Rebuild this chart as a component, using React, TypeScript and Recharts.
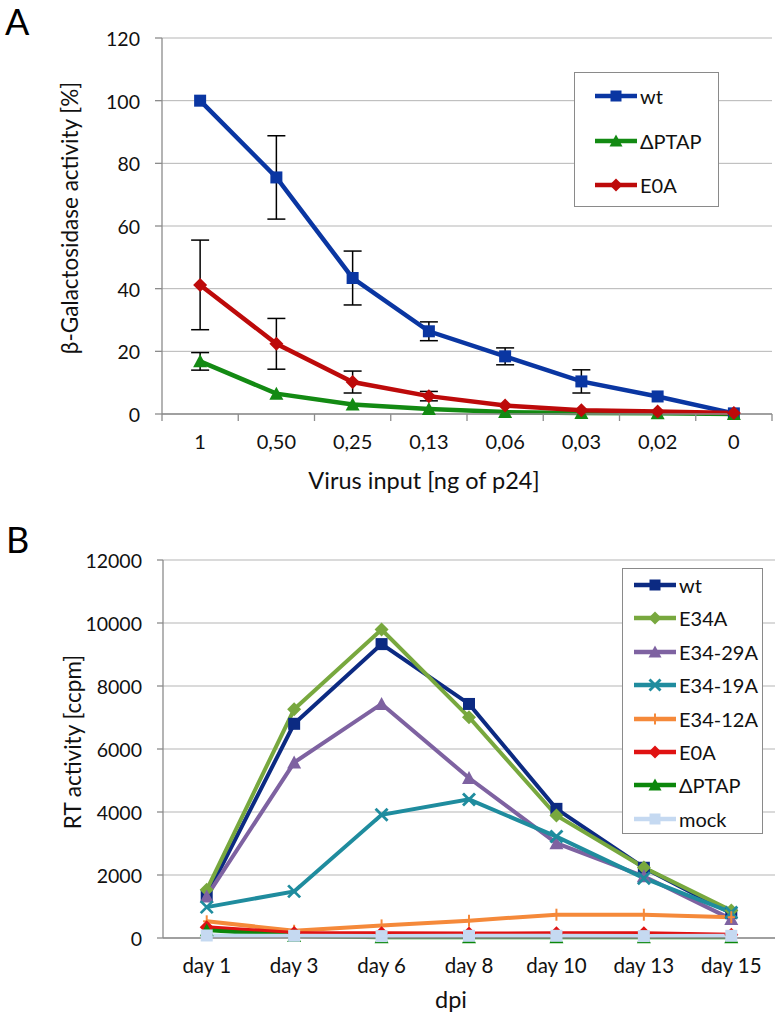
import React from "react";
import { CartesianGrid, ErrorBar, Label, Line, LineChart, XAxis, YAxis } from "recharts";

// Two stacked Excel-style line charts: (A) β-Gal activity vs. virus input, (B) RT activity over time

const FONT = "Lato, 'Open Sans', sans-serif";
const AXIS_GRAY = "#8c8c8c";
const GRID_GRAY = "#b5b5b5";

// ---- panel A data ----
const doseLabels = ["1", "0,50", "0,25", "0,13", "0,06", "0,03", "0,02", "0"];
const wtA = [100, 75.5, 43.4, 26.4, 18.4, 10.4, 5.6, 0.2];
const wtAErr = [null, 13.3, 8.6, 3.0, 2.7, 3.7, null, null];
const ptapA = [16.8, 6.5, 3.0, 1.6, 0.6, 0.3, 0.2, 0];
const ptapAErr = [2.8, null, null, null, null, null, null, null];
const e0aA = [41.2, 22.4, 10.2, 5.7, 2.7, 1.2, 0.8, 0.3];
const e0aAErr = [14.3, 8.1, 3.5, 1.5, null, null, null, null];
const yTicksA = [0, 20, 40, 60, 80, 100, 120];

// ---- panel B data ----
const dayLabels = ["day 1", "day 3", "day 6", "day 8", "day 10", "day 13", "day 15"];
const wtB = [1350, 6800, 9330, 7430, 4100, 2230, 790];
const e34aB = [1530, 7260, 9790, 7010, 3890, 2240, 870];
const e3429aB = [1320, 5570, 7430, 5080, 3010, 1960, 600];
const e3419aB = [980, 1480, 3910, 4400, 3220, 1900, 810];
const e3412aB = [530, 230, 400, 550, 740, 740, 660];
const e0aB = [340, 160, 150, 140, 150, 150, 100];
const ptapB = [250, 60, 20, 20, 20, 20, 20];
const mockB = [80, 70, 60, 70, 70, 60, 70];
const yTicksB = [0, 2000, 4000, 6000, 8000, 10000, 12000];

type Shape = "square" | "diamond" | "triangle" | "cross" | "plus";
type Series = { key: string; name: string; color: string; shape: Shape; values: number[]; err?: (number | null)[] };

const seriesA: Series[] = [
  { key: "wt", name: "wt", color: "#0a36a2", shape: "square", values: wtA, err: wtAErr },
  { key: "ptap", name: "ΔPTAP", color: "#138a13", shape: "triangle", values: ptapA, err: ptapAErr },
  { key: "e0a", name: "E0A", color: "#bd0a0a", shape: "diamond", values: e0aA, err: e0aAErr },
];

const seriesB: Series[] = [
  { key: "wt", name: "wt", color: "#0c2a82", shape: "square", values: wtB },
  { key: "e34a", name: "E34A", color: "#78a83e", shape: "diamond", values: e34aB },
  { key: "e3429a", name: "E34-29A", color: "#7e62a1", shape: "triangle", values: e3429aB },
  { key: "e3419a", name: "E34-19A", color: "#1f8c9e", shape: "cross", values: e3419aB },
  { key: "e3412a", name: "E34-12A", color: "#f5893a", shape: "plus", values: e3412aB },
  { key: "e0a", name: "E0A", color: "#e01212", shape: "diamond", values: e0aB },
  { key: "ptap", name: "ΔPTAP", color: "#0b870b", shape: "triangle", values: ptapB },
  { key: "mock", name: "mock", color: "#c5d9f1", shape: "square", values: mockB },
];

// rows keyed by category position (i + 0.5 so points sit between boundary ticks, like Excel)
function buildRows(labels: string[], series: Series[]) {
  return labels.map((label, i) => {
    const row: Record<string, any> = { pos: i + 0.5, label };
    for (const s of series) {
      row[s.key] = s.values[i];
      if (s.err) row[s.key + "Err"] = s.err[i];
    }
    return row;
  });
}

const rowsA = buildRows(doseLabels, seriesA);
const rowsB = buildRows(dayLabels, seriesB);

function Marker({ cx, cy, shape, color, size }: { cx: number; cy: number; shape: Shape; color: string; size: number }) {
  const h = size / 2;
  switch (shape) {
    case "square":
      return <rect x={cx - h} y={cy - h} width={size} height={size} fill={color} />;
    case "diamond":
      return <polygon points={`${cx},${cy - h - 1} ${cx + h + 1},${cy} ${cx},${cy + h + 1} ${cx - h - 1},${cy}`} fill={color} />;
    case "triangle":
      return <polygon points={`${cx},${cy - h - 1} ${cx + h + 1},${cy + h} ${cx - h - 1},${cy + h}`} fill={color} />;
    case "cross":
      return (
        <g stroke={color} strokeWidth={2.8}>
          <line x1={cx - h} y1={cy - h} x2={cx + h} y2={cy + h} />
          <line x1={cx - h} y1={cy + h} x2={cx + h} y2={cy - h} />
        </g>
      );
    case "plus":
      return (
        <g stroke={color} strokeWidth={2}>
          <line x1={cx} y1={cy - h} x2={cx} y2={cy + h} />
          <line x1={cx - h * 0.6} y1={cy} x2={cx + h * 0.6} y2={cy} />
        </g>
      );
  }
}

function makeTick(labels: string[], boundaryTicks: boolean, labelDy: number, fontSize: number) {
  return (props: any) => {
    const { x, y, payload } = props;
    const v = payload.value as number;
    if (Number.isInteger(v)) {
      if (!boundaryTicks) return <g />;
      return <line x1={x} x2={x} y1={y} y2={y + 7} stroke={AXIS_GRAY} strokeWidth={1.3} />;
    }
    return (
      <text x={x} y={y + labelDy} textAnchor="middle" fontSize={fontSize} fontFamily={FONT} fill="#111">
        {labels[Math.floor(v)]}
      </text>
    );
  };
}

const tickPositions = (n: number, withBounds: boolean) =>
  withBounds
    ? [...Array.from({ length: n }, (_, i) => [i, i + 0.5]).flat(), n]
    : Array.from({ length: n }, (_, i) => i + 0.5);

function LegendBox({ series, left, top, width, height, firstRow, rowGap, padLeft, lineW, markerSize }: {
  series: Series[]; left: number; top: number; width: number; height: number; firstRow: number; rowGap: number;
  padLeft: number; lineW: number; markerSize: number;
}) {
  return (
    <div style={{ position: "absolute", left, top, width, height, border: "1.5px solid #8a8a8a", background: "#fff", boxSizing: "border-box" }}>
      {series.map((s, i) => (
        <div key={s.key} style={{ position: "absolute", left: padLeft, top: firstRow + i * rowGap - 13, height: 26, display: "flex", alignItems: "center" }}>
          <svg width={44} height={26}>
            <line x1={1} x2={43} y1={13} y2={13} stroke={s.color} strokeWidth={lineW} />
            <Marker cx={22} cy={13} shape={s.shape} color={s.color} size={markerSize} />
          </svg>
          <span style={{ fontFamily: FONT, fontSize: 20, color: "#111", marginLeft: 2 }}>{s.name}</span>
        </div>
      ))}
    </div>
  );
}

function PanelA() {
  return (
    <div style={{ position: "absolute", left: 0, top: 0, width: 782, height: 500 }}>
      <LineChart width={782} height={500} data={rowsA} margin={{ top: 38, right: 10, left: 102, bottom: 0 }}>
        <CartesianGrid vertical={false} stroke={GRID_GRAY} strokeWidth={1} />
        <XAxis
          type="number"
          dataKey="pos"
          domain={[0, doseLabels.length]}
          ticks={tickPositions(doseLabels.length, true)}
          interval={0}
          height={86}
          tickSize={0}
          tickMargin={0}
          tickLine={false}
          axisLine={{ stroke: AXIS_GRAY, strokeWidth: 1.3 }}
          tick={makeTick(doseLabels, true, 35, 20)}
        >
          <Label
            content={() => (
              <text x={424} y={489} textAnchor="middle" fontSize={23.5} fontFamily={FONT} fill="#111">
                Virus input [ng of p24]
              </text>
            )}
          />
        </XAxis>
        <YAxis
          type="number"
          domain={[0, 120]}
          ticks={yTicksA}
          width={60}
          tickSize={7}
          tickMargin={15}
          axisLine={{ stroke: AXIS_GRAY, strokeWidth: 1.3 }}
          tickLine={{ stroke: AXIS_GRAY, strokeWidth: 1.3 }}
          tick={{ fontSize: 19.5, fontFamily: FONT, fill: "#111", dy: 1 }}
        >
          <Label
            content={() => (
              <text transform="translate(78,218) rotate(-90)" textAnchor="middle" fontSize={22.5} fontFamily={FONT} fill="#111">
                β-Galactosidase activity [%]
              </text>
            )}
          />
        </YAxis>
        {seriesA.map((s) => (
          <Line
            key={s.key}
            type="linear"
            dataKey={s.key}
            name={s.name}
            stroke={s.color}
            strokeWidth={4.5}
            isAnimationActive={false}
            activeDot={false}
            dot={(p: any) => <Marker key={`${s.key}-${p.index}`} cx={p.cx} cy={p.cy} shape={s.shape} color={s.color} size={12} />}
          >
            <ErrorBar dataKey={s.key + "Err"} direction="y" width={9} stroke="#000" strokeWidth={1.5} />
          </Line>
        ))}
      </LineChart>
      <LegendBox series={seriesA} left={574} top={72} width={145} height={135} firstRow={23} rowGap={44.5} padLeft={19} lineW={4.5} markerSize={11} />
      <div style={{ position: "absolute", left: 5, top: -1, fontFamily: FONT, fontSize: 36, color: "#000" }}>A</div>
    </div>
  );
}

function PanelB() {
  return (
    <div style={{ position: "absolute", left: 0, top: 500, width: 782, height: 528 }}>
      <LineChart width={782} height={528} data={rowsB} margin={{ top: 60, right: 7, left: 103, bottom: 0 }}>
        <CartesianGrid vertical={false} stroke={GRID_GRAY} strokeWidth={1} />
        <XAxis
          type="number"
          dataKey="pos"
          domain={[0, dayLabels.length]}
          ticks={tickPositions(dayLabels.length, false)}
          interval={0}
          height={90}
          tickSize={0}
          tickMargin={0}
          tickLine={false}
          axisLine={{ stroke: AXIS_GRAY, strokeWidth: 1.3 }}
          tick={makeTick(dayLabels, false, 35, 20.5)}
        >
          <Label
            content={() => (
              <text x={451} y={508} textAnchor="middle" fontSize={23.5} fontFamily={FONT} fill="#111">
                dpi
              </text>
            )}
          />
        </XAxis>
        <YAxis
          type="number"
          domain={[0, 12000]}
          ticks={yTicksB}
          width={60}
          tickSize={6}
          tickMargin={15}
          axisLine={{ stroke: AXIS_GRAY, strokeWidth: 1.3 }}
          tickLine={{ stroke: AXIS_GRAY, strokeWidth: 1.3 }}
          tick={{ fontSize: 19.5, fontFamily: FONT, fill: "#111", dy: 1 }}
        >
          <Label
            content={() => (
              <text transform="translate(81,242) rotate(-90)" textAnchor="middle" fontSize={22.5} fontFamily={FONT} fill="#111">
                RT activity [ccpm]
              </text>
            )}
          />
        </YAxis>
        {seriesB.map((s) => (
          <Line
            key={s.key}
            type="linear"
            dataKey={s.key}
            name={s.name}
            stroke={s.color}
            strokeWidth={4}
            isAnimationActive={false}
            activeDot={false}
            dot={(p: any) => <Marker key={`${s.key}-${p.index}`} cx={p.cx} cy={p.cy} shape={s.shape} color={s.color} size={12} />}
          />
        ))}
      </LineChart>
      <LegendBox series={seriesB} left={622} top={68} width={141} height={266} firstRow={16} rowGap={33.4} padLeft={10} lineW={4.5} markerSize={11} />
      <div style={{ position: "absolute", left: 6, top: 17, fontFamily: FONT, fontSize: 36, color: "#000" }}>B</div>
    </div>
  );
}

export default function App() {
  return (
    <div style={{ position: "absolute", left: 0, top: 0, width: 782, height: 1028, background: "#fff" }}>
      <PanelA />
      <PanelB />
    </div>
  );
}
